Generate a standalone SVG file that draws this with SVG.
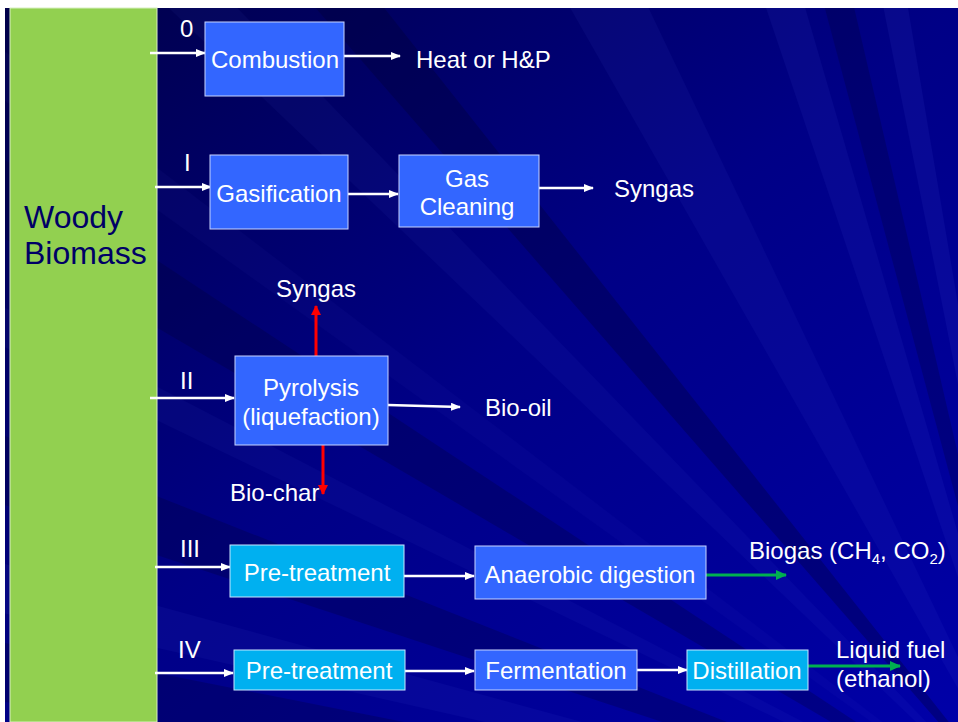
<svg xmlns="http://www.w3.org/2000/svg" width="958" height="722" viewBox="0 0 958 722">
<defs>
<linearGradient id="bg" x1="0" y1="0" x2="1" y2="1">
<stop offset="0" stop-color="#000048"/>
<stop offset="0.5" stop-color="#000086"/>
<stop offset="1" stop-color="#0000A8"/>
</linearGradient>
<clipPath id="area">
<rect x="5" y="8" width="953" height="714"/>
</clipPath>
<marker id="aw" markerWidth="10" markerHeight="8" refX="9" refY="4" orient="auto" markerUnits="userSpaceOnUse">
<path d="M0,0 L10,4 L0,8 Z" fill="#FFFFFF"/>
</marker>
<marker id="ar" markerWidth="10" markerHeight="10" refX="9" refY="5" orient="auto" markerUnits="userSpaceOnUse">
<path d="M0,0 L10,5 L0,10 Z" fill="#FF0000"/>
</marker>
<marker id="ag" markerWidth="11" markerHeight="10" refX="10" refY="5" orient="auto" markerUnits="userSpaceOnUse">
<path d="M0,0 L11,5 L0,10 Z" fill="#00B050"/>
</marker>
<style>
.t{font-family:"Liberation Sans",Arial,sans-serif;fill:#FFFFFF;font-size:24px}
.c{text-anchor:middle}
.b1{fill:#3366FF;stroke:#C8D4FF;stroke-width:1}
.b2{fill:#00B0F0;stroke:#C8E8FF;stroke-width:1}
.w{stroke:#FFFFFF;stroke-width:2.5;fill:none;marker-end:url(#aw)}
.r{stroke:#FF0000;stroke-width:3;fill:none;marker-end:url(#ar)}
.g{stroke:#00B050;stroke-width:3;fill:none;marker-end:url(#ag)}
.lt{fill:#6070FF}
.dk{fill:#000030}
</style>
</defs>
<g id="background">
<rect x="0" y="0" width="958" height="722" fill="#FFFFFF"/>
<rect x="5" y="8" width="953" height="714" fill="url(#bg)"/>
<g clip-path="url(#area)">
<polygon class="lt" opacity="0.05" points="1050,850 150,-10 220,-10"/>
<polygon class="dk" opacity="0.3" points="1050,850 300,-10 370,-10"/>
<polygon class="lt" opacity="0.06" points="1050,850 560,-10 640,-10"/>
<polygon class="lt" opacity="0.07" points="1050,850 760,-10 800,-10"/>
<polygon class="dk" opacity="0.25" points="1050,850 820,-10 850,-10"/>
<polygon class="lt" opacity="0.08" points="1050,850 880,-10 905,-10"/>
<polygon class="dk" opacity="0.25" points="1050,850 -10,150 -10,230"/>
<polygon class="lt" opacity="0.05" points="1050,850 -10,300 -10,340"/>
<polygon class="dk" opacity="0.25" points="1050,850 -10,430 -10,500"/>
<polygon class="lt" opacity="0.06" points="1050,850 -10,560 -10,610"/>
<polygon class="lt" opacity="0.04" points="1050,850 -10,40 -10,90"/>
<polygon class="dk" opacity="0.25" points="1050,850 -10,640 -10,700"/>
</g>
</g>
<g id="woody-biomass">
<rect x="10" y="8" width="147" height="714" fill="#92D050" stroke="#D8EFC0" stroke-width="1"/>
<text x="24" y="228" font-family="'Liberation Sans',Arial,sans-serif" font-size="32" fill="#000066">Woody</text>
<text x="24" y="264" font-family="'Liberation Sans',Arial,sans-serif" font-size="32" fill="#000066">Biomass</text>
</g>
<g id="connectors">
<line class="w" x1="150" y1="53" x2="205" y2="53"/>
<line class="w" x1="344" y1="56" x2="400" y2="56"/>
<line class="w" x1="155" y1="187" x2="211" y2="187"/>
<line class="w" x1="348" y1="194" x2="398" y2="194"/>
<line class="w" x1="539" y1="188" x2="593" y2="188"/>
<line class="w" x1="150" y1="398" x2="234" y2="398"/>
<line class="w" x1="388" y1="405" x2="460" y2="407"/>
<line class="r" x1="316" y1="356" x2="316" y2="306"/>
<line class="r" x1="323" y1="445" x2="323" y2="494"/>
<line class="w" x1="155" y1="567" x2="230" y2="567"/>
<line class="w" x1="404" y1="576" x2="474" y2="576"/>
<line class="g" x1="706" y1="575" x2="786" y2="575"/>
<line class="w" x1="155" y1="673" x2="233" y2="673"/>
<line class="w" x1="405" y1="671" x2="474" y2="671"/>
<line class="w" x1="637" y1="670" x2="687" y2="670"/>
<line class="g" x1="808" y1="666" x2="900" y2="666"/>
</g>
<g id="route-labels">
<text class="t" x="180" y="37">0</text>
<text class="t" x="184" y="171">I</text>
<text class="t" x="180" y="389">II</text>
<text class="t" x="180" y="557">III</text>
<text class="t" x="178" y="658">IV</text>
</g>
<g id="combustion">
<rect class="b1" x="205" y="22" width="139" height="74"/>
<text class="t c" x="275" y="68">Combustion</text>
</g>
<g id="heat">
<text class="t" x="416" y="68">Heat or H&amp;P</text>
</g>
<g id="gasification">
<rect class="b1" x="210" y="155" width="138" height="74"/>
<text class="t c" x="279" y="202">Gasification</text>
</g>
<g id="gas-cleaning">
<rect class="b1" x="399" y="155" width="140" height="72"/>
<text class="t c" x="467" y="187">Gas</text>
<text class="t c" x="467" y="215">Cleaning</text>
</g>
<g id="syngas-1">
<text class="t" x="614" y="197">Syngas</text>
</g>
<g id="pyrolysis">
<rect class="b1" x="235" y="356" width="153" height="89"/>
<text class="t c" x="311" y="396">Pyrolysis</text>
<text class="t c" x="311" y="425">(liquefaction)</text>
</g>
<g id="syngas-2">
<text class="t" x="276" y="297">Syngas</text>
</g>
<g id="bio-oil">
<text class="t" x="485" y="416">Bio-oil</text>
</g>
<g id="bio-char">
<text class="t" x="230" y="501">Bio-char</text>
</g>
<g id="pretreatment-3">
<rect class="b2" x="230" y="545" width="174" height="52"/>
<text class="t c" x="317" y="581">Pre-treatment</text>
</g>
<g id="anaerobic">
<rect class="b1" x="475" y="546" width="231" height="53"/>
<text class="t c" x="590" y="583">Anaerobic digestion</text>
</g>
<g id="biogas">
<text class="t" x="749" y="559">Biogas (CH<tspan font-size="15" dy="5">4</tspan><tspan dy="-5">, CO</tspan><tspan font-size="15" dy="5">2</tspan><tspan dy="-5">)</tspan></text>
</g>
<g id="pretreatment-4">
<rect class="b2" x="234" y="650" width="171" height="40"/>
<text class="t c" x="319" y="679">Pre-treatment</text>
</g>
<g id="fermentation">
<rect class="b1" x="475" y="650" width="162" height="40"/>
<text class="t c" x="556" y="679">Fermentation</text>
</g>
<g id="distillation">
<rect class="b2" x="687" y="650" width="121" height="40"/>
<text class="t c" x="747" y="679">Distillation</text>
</g>
<g id="liquid-fuel">
<text class="t" x="836" y="658">Liquid fuel</text>
<text class="t" x="836" y="687">(ethanol)</text>
</g>
</svg>
